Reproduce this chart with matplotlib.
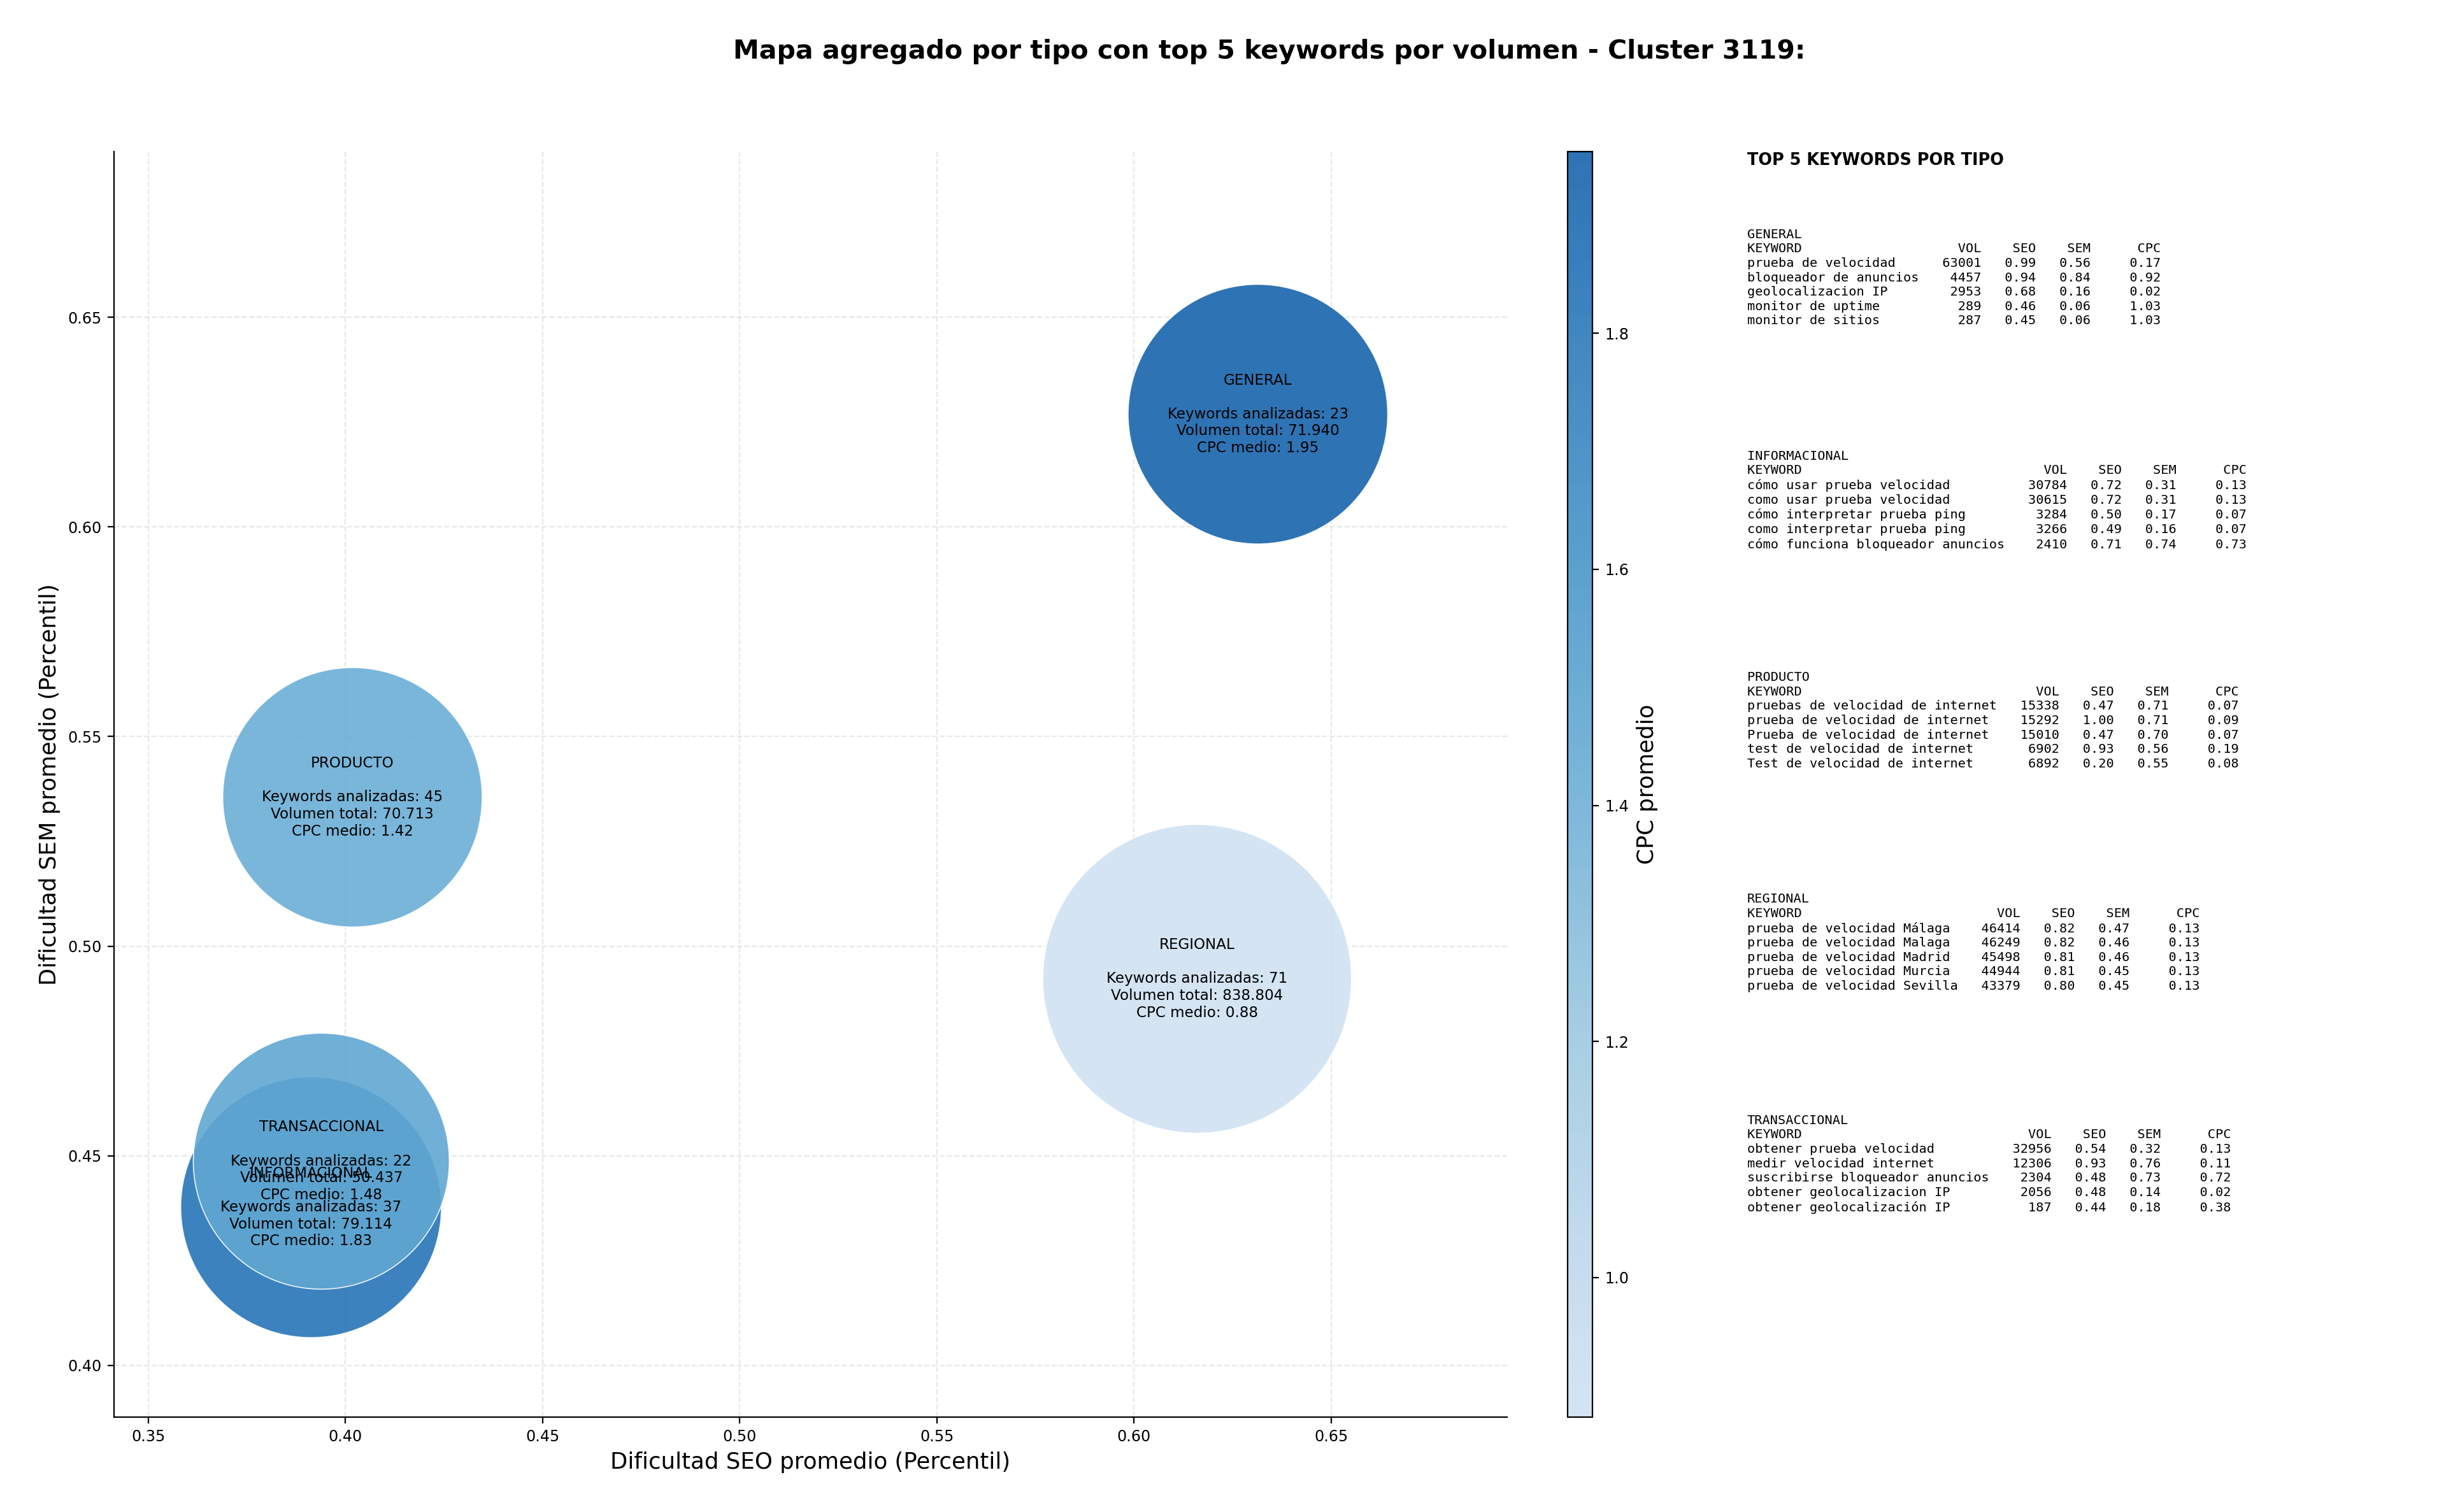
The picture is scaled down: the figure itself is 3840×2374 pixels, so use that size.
import numpy as np
import matplotlib
matplotlib.use("Agg")
import matplotlib.pyplot as plt
from matplotlib.colors import LinearSegmentedColormap, Normalize

# ---------------- data ----------------
tipos = ["GENERAL", "INFORMACIONAL", "PRODUCTO", "REGIONAL", "TRANSACCIONAL"]
seo_medio = [0.6314, 0.3913, 0.4018, 0.6160, 0.3939]
sem_medio = [0.6269, 0.4377, 0.5355, 0.4922, 0.4487]
n_keywords = [23, 37, 45, 71, 22]
volumen_total = [71940, 79114, 70713, 838804, 50437]
cpc_medio = [1.954, 1.83, 1.42, 0.882, 1.48]

top_general_kw = ["prueba de velocidad", "bloqueador de anuncios", "geolocalizacion IP",
                  "monitor de uptime", "monitor de sitios"]
top_general_vol = [63001, 4457, 2953, 289, 287]
top_general_seo = [0.99, 0.94, 0.68, 0.46, 0.45]
top_general_sem = [0.56, 0.84, 0.16, 0.06, 0.06]
top_general_cpc = [0.17, 0.92, 0.02, 1.03, 1.03]

top_info_kw = ["cómo usar prueba velocidad", "como usar prueba velocidad",
               "cómo interpretar prueba ping", "como interpretar prueba ping",
               "cómo funciona bloqueador anuncios"]
top_info_vol = [30784, 30615, 3284, 3266, 2410]
top_info_seo = [0.72, 0.72, 0.50, 0.49, 0.71]
top_info_sem = [0.31, 0.31, 0.17, 0.16, 0.74]
top_info_cpc = [0.13, 0.13, 0.07, 0.07, 0.73]

top_prod_kw = ["pruebas de velocidad de internet", "prueba de velocidad de internet",
               "Prueba de velocidad de internet", "test de velocidad de internet",
               "Test de velocidad de internet"]
top_prod_vol = [15338, 15292, 15010, 6902, 6892]
top_prod_seo = [0.47, 1.00, 0.47, 0.93, 0.20]
top_prod_sem = [0.71, 0.71, 0.70, 0.56, 0.55]
top_prod_cpc = [0.07, 0.09, 0.07, 0.19, 0.08]

top_reg_kw = ["prueba de velocidad Málaga", "prueba de velocidad Malaga",
              "prueba de velocidad Madrid", "prueba de velocidad Murcia",
              "prueba de velocidad Sevilla"]
top_reg_vol = [46414, 46249, 45498, 44944, 43379]
top_reg_seo = [0.82, 0.82, 0.81, 0.81, 0.80]
top_reg_sem = [0.47, 0.46, 0.46, 0.45, 0.45]
top_reg_cpc = [0.13, 0.13, 0.13, 0.13, 0.13]

top_trans_kw = ["obtener prueba velocidad", "medir velocidad internet",
                "suscribirse bloqueador anuncios", "obtener geolocalizacion IP",
                "obtener geolocalización IP"]
top_trans_vol = [32956, 12306, 2304, 2056, 187]
top_trans_seo = [0.54, 0.93, 0.48, 0.48, 0.44]
top_trans_sem = [0.32, 0.76, 0.73, 0.14, 0.18]
top_trans_cpc = [0.13, 0.11, 0.72, 0.02, 0.38]

tops = [
    (top_general_kw, top_general_vol, top_general_seo, top_general_sem, top_general_cpc),
    (top_info_kw, top_info_vol, top_info_seo, top_info_sem, top_info_cpc),
    (top_prod_kw, top_prod_vol, top_prod_seo, top_prod_sem, top_prod_cpc),
    (top_reg_kw, top_reg_vol, top_reg_seo, top_reg_sem, top_reg_cpc),
    (top_trans_kw, top_trans_vol, top_trans_seo, top_trans_sem, top_trans_cpc),
]

# ---------------- figure ----------------
fig = plt.figure(figsize=(19.2, 11.87), dpi=200)
ax = fig.add_axes([0.04656, 0.0629, 0.5695, 0.8370])
cax = fig.add_axes([0.6410, 0.0629, 0.0101, 0.8370])

cmap = LinearSegmentedColormap.from_list("blues_trunc", plt.cm.Blues(np.linspace(0.2, 0.8, 256)))
x = np.array(seo_medio)
y = np.array(sem_medio)
vol = np.array(volumen_total, dtype=float)
sizes = 1.03 * (17325 + 13.36 * np.sqrt(vol))
norm = Normalize(vmin=min(cpc_medio), vmax=max(cpc_medio))

sc = ax.scatter(x, y, s=sizes, c=cpc_medio, cmap=cmap, norm=norm, alpha=0.9,
                edgecolors="white", linewidths=0.6, zorder=3)

for i, t in enumerate(tipos):
    vol_txt = f"{volumen_total[i]:,}".replace(",", ".")
    label = (f"{t}\n\nKeywords analizadas: {n_keywords[i]}\n"
             f"Volumen total: {vol_txt}\nCPC medio: {cpc_medio[i]:.2f}")
    ax.text(x[i], y[i], label, ha="center", va="center", fontsize=8.3, zorder=4)

ax.set_xlim(x.min() - 0.05, x.max() * 1.1)
ax.set_ylim(y.min() - 0.05, y.max() * 1.1)
ax.set_xticks([0.35, 0.40, 0.45, 0.50, 0.55, 0.60, 0.65])
ax.set_yticks([0.40, 0.45, 0.50, 0.55, 0.60, 0.65])
ax.tick_params(labelsize=8.6)
ax.grid(True, linestyle="--", alpha=0.3, zorder=0)
ax.set_axisbelow(True)
ax.spines["top"].set_visible(False)
ax.spines["right"].set_visible(False)
ax.set_xlabel("Dificultad SEO promedio (Percentil)", fontsize=12.8)
ax.set_ylabel("Dificultad SEM promedio (Percentil)", fontsize=12.8)

cb = fig.colorbar(sc, cax=cax)
cb.set_label("CPC promedio", fontsize=12.8)
cb.ax.tick_params(labelsize=8.6)

fig.text(0.519, 0.966, "Mapa agregado por tipo con top 5 keywords por volumen - Cluster 3119:",
         ha="center", va="center", fontsize=14.75, fontweight="bold")

# ---------------- side tables ----------------
fig.text(0.7143, 0.8909, "TOP 5 KEYWORDS POR TIPO", ha="left", va="baseline",
         fontsize=9.2, fontweight="bold")

for i, (t, data) in enumerate(zip(tipos, tops)):
    kws, vols, seos, sems, cpcs = data
    w = max(len(k) for k in kws)
    lines = [t, f"{'KEYWORD':<{w}}{'VOL':>8}{'SEO':>7}{'SEM':>7}{'CPC':>9}"]
    for k, v, s1, s2, c in zip(kws, vols, seos, sems, cpcs):
        lines.append(f"{k:<{w}}{v:>8}{s1:>7.2f}{s2:>7.2f}{c:>9.2f}")
    fig.text(0.7143, 0.8489 - i * 0.1465, "\n".join(lines), ha="left", va="top",
             fontsize=7.3, family="DejaVu Sans Mono", linespacing=1.24)

fig.savefig("out.png", dpi=200)
